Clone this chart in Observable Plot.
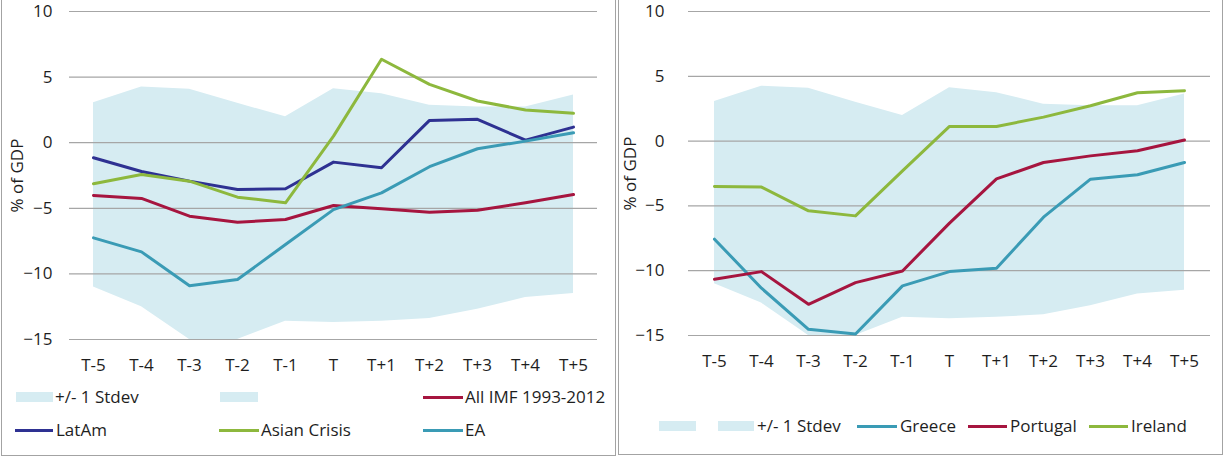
<!DOCTYPE html>
<html>
<head>
<meta charset="utf-8">
<script src="https://cdn.jsdelivr.net/npm/d3@7"></script>
<script src="https://cdn.jsdelivr.net/npm/@observablehq/plot@0.6"></script>
<style>
  body { margin: 0; background: #fff; font-family: "Open Sans", Lato, sans-serif; }
  #wrap { position: relative; width: 1225px; height: 457px; overflow: hidden; background: #fff; }
  .panel { position: absolute; box-sizing: border-box; border: 1.5px solid #a3a3a3; }
  .chart { position: absolute; top: 0; }
  .lg-text { position: absolute; font-size: 17px; line-height: 20px; color: #1e1e1e; white-space: nowrap; }
  .lg-line { position: absolute; height: 3px; }
  .lg-swatch { position: absolute; height: 10px; }
</style>
</head>
<body>
<div id="wrap"></div>
<script>
// ---- data ----
const periods = ["T-5", "T-4", "T-3", "T-2", "T-1", "T", "T+1", "T+2", "T+3", "T+4", "T+5"];
const yTicks = [-15, -10, -5, 0, 5, 10];
const stdevUpper = [3.05, 4.24, 4.07, 3.0, 1.98, 4.12, 3.74, 2.85, 2.72, 2.72, 3.63];
const stdevLower = [-11.0, -12.5, -15.0, -15.0, -13.6, -13.7, -13.6, -13.4, -12.7, -11.8, -11.5];
const allIMF = [-4.02, -4.25, -5.6, -6.06, -5.85, -4.79, -5.04, -5.3, -5.15, -4.58, -3.95];
const latAm = [-1.15, -2.2, -2.93, -3.56, -3.51, -1.48, -1.91, 1.7, 1.78, 0.2, 1.19];
const asianCrisis = [-3.13, -2.42, -2.93, -4.15, -4.58, 0.5, 6.36, 4.45, 3.18, 2.49, 2.24];
const ea = [-7.25, -8.32, -10.9, -10.43, -7.76, -5.1, -3.82, -1.83, -0.46, 0.12, 0.76];
const greece = [-7.57, -11.35, -14.52, -14.88, -11.17, -10.07, -9.81, -5.87, -2.94, -2.6, -1.65];
const portugal = [-10.66, -10.07, -12.59, -10.92, -10.02, -6.33, -2.91, -1.65, -1.14, -0.75, 0.08];
const ireland = [-3.5, -3.55, -5.38, -5.77, -2.3, 1.13, 1.13, 1.85, 2.73, 3.73, 3.88];

const stdevLabel = "+/- 1 Stdev";
const yLabel = "% of GDP";

// ---- styles ----
const colors = {
  band: "#d6ecf2",
  grid: "#a6a6a6",
  navy: "#2e3192",
  green: "#8db83d",
  red: "#a6153f",
  teal: "#3a9bb5",
  text: "#1e1e1e"
};
const font = "'Open Sans', Lato, sans-serif";
const fs = 17;

const leftSeries = [
  {name: "All IMF 1993-2012", values: allIMF, color: colors.red},
  {name: "LatAm", values: latAm, color: colors.navy},
  {name: "Asian Crisis", values: asianCrisis, color: colors.green},
  {name: "EA", values: ea, color: colors.teal}
];
const rightSeries = [
  {name: "Greece", values: greece, color: colors.teal},
  {name: "Portugal", values: portugal, color: colors.red},
  {name: "Ireland", values: ireland, color: colors.green}
];

const wrap = document.getElementById("wrap");

function makePanel(series, cfg) {
  const band = periods.map((p, i) => ({p, lo: stdevLower[i], hi: stdevUpper[i]}));
  const lineData = series.flatMap(s => periods.map((p, i) => ({p, v: s.values[i], name: s.name})));
  const chart = Plot.plot({
    width: cfg.width,
    height: 380,
    marginLeft: cfg.marginLeft,
    marginRight: cfg.marginRight,
    marginTop: 11,
    marginBottom: cfg.marginBottom,
    style: {fontFamily: font, fontSize: fs + "px", color: colors.text, background: "transparent", overflow: "visible"},
    x: {type: "point", domain: periods, padding: 0.5},
    y: {domain: [-15, 10]},
    marks: [
      Plot.areaY(band, {x: "p", y1: "lo", y2: "hi", fill: colors.band, clip: true}),
      Plot.gridY(yTicks, {stroke: colors.grid, strokeOpacity: 1, strokeWidth: 1.2}),
      Plot.axisY(yTicks, {tickSize: 0, tickPadding: cfg.tickPadY, label: yLabel, labelAnchor: "center", labelOffset: cfg.labelOffset, labelArrow: "none", fontSize: fs}),
      Plot.axisX({tickSize: 0, tickPadding: 19, label: null, fontSize: fs}),
      Plot.line(lineData, {x: "p", y: "v", z: "name", stroke: d => series.find(s => s.name === d.name).color, strokeWidth: 3, strokeLinejoin: "round"})
    ]
  });
  chart.classList.add("chart");
  chart.style.left = cfg.left + "px";
  wrap.appendChild(chart);
}

function addPanelFrame(left, top, width, height) {
  const d = document.createElement("div");
  d.className = "panel";
  Object.assign(d.style, {left: left + "px", top: top + "px", width: width + "px", height: height + "px"});
  wrap.appendChild(d);
}

function addText(text, x, yc) {
  const t = document.createElement("div");
  t.className = "lg-text";
  t.textContent = text;
  t.style.left = x + "px";
  t.style.top = (yc - 10) + "px";
  wrap.appendChild(t);
}
function addLine(color, x0, x1, yc) {
  const l = document.createElement("div");
  l.className = "lg-line";
  Object.assign(l.style, {left: x0 + "px", width: (x1 - x0) + "px", top: (yc - 1.5) + "px", background: color});
  wrap.appendChild(l);
}
function addSwatch(x0, x1, yc) {
  const s = document.createElement("div");
  s.className = "lg-swatch";
  Object.assign(s.style, {left: x0 + "px", width: (x1 - x0) + "px", top: (yc - 5) + "px", background: colors.band});
  wrap.appendChild(s);
}

addPanelFrame(1, -5, 615, 461);
addPanelFrame(618, -5, 605, 460);

makePanel(leftSeries, {left: 0, width: 615, marginLeft: 69, marginRight: 18, marginBottom: 41, tickPadY: 17, labelOffset: 59});
makePanel(rightSeries, {left: 612, width: 613, marginLeft: 76, marginRight: 15, marginBottom: 45, tickPadY: 24, labelOffset: 65});

// ---- legends ----
const byName = Object.fromEntries([...leftSeries, ...rightSeries].map(s => [s.name, s]));
// left legend
addSwatch(16, 53, 397); addText(stdevLabel, 55, 397);
addSwatch(220, 258, 397);
addLine(byName["All IMF 1993-2012"].color, 423, 463, 397); addText("All IMF 1993-2012", 465, 397);
addLine(byName["LatAm"].color, 15, 53, 430); addText("LatAm", 56, 430);
addLine(byName["Asian Crisis"].color, 219, 259, 430); addText("Asian Crisis", 261, 430);
addLine(byName["EA"].color, 423, 463, 430); addText("EA", 465, 430);
// right legend
addSwatch(659, 696, 426);
addSwatch(718, 754, 426); addText(stdevLabel, 757, 426);
addLine(byName["Greece"].color, 857, 897, 426); addText("Greece", 900, 426);
addLine(byName["Portugal"].color, 968, 1007, 426); addText("Portugal", 1010, 426);
addLine(byName["Ireland"].color, 1089, 1128, 426); addText("Ireland", 1131, 426);
</script>
</body>
</html>
